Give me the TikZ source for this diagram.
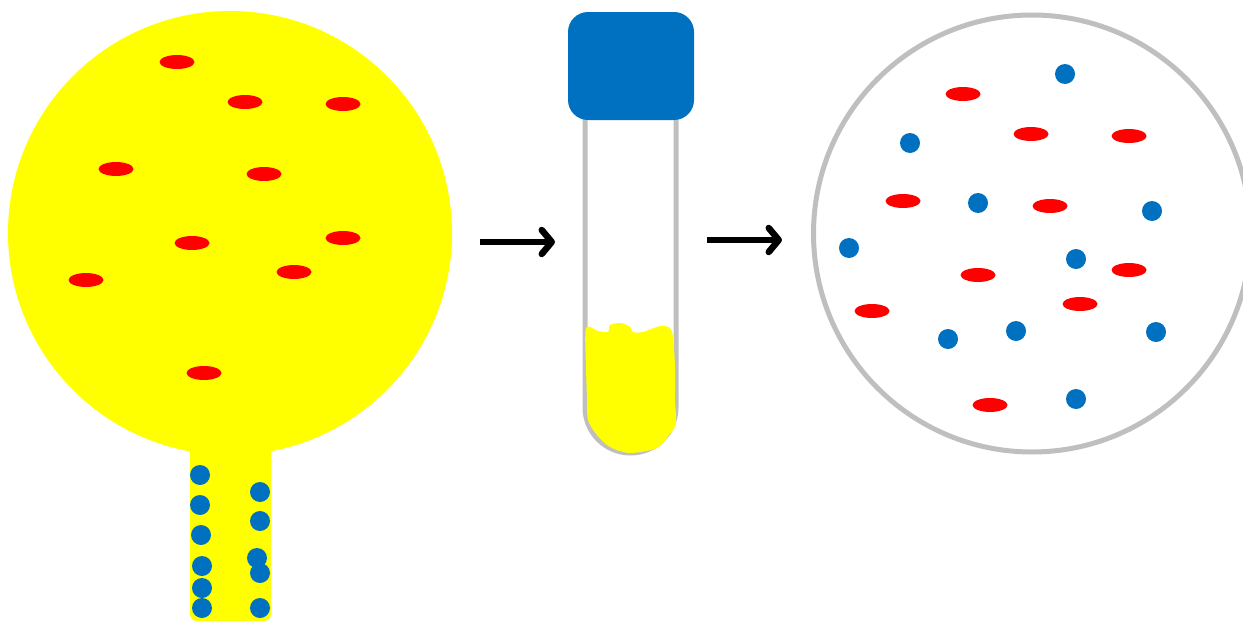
\documentclass[tikz,border=0pt]{standalone}
\usetikzlibrary{arrows.meta}
\definecolor{capblue}{HTML}{0070C0}
\definecolor{dotred}{HTML}{FF0000}
\definecolor{fillyellow}{HTML}{FFFF00}
\definecolor{glassgray}{HTML}{BFBFBF}
\tikzset{
  bluedot/.style={fill=capblue},
  redcell/.style={fill=dotred},
  glass/.style={glassgray, line width=5pt},
  flowarrow/.style={line width=6.5pt, -{Straight Barb[length=10pt,width=24pt,line width=6.5pt,round]}, line cap=butt},
}
\newcommand{\bdot}[2]{\fill[bluedot] (#1,#2) circle (10);}
\newcommand{\rcell}[2]{\fill[redcell] (#1,#2) ellipse (17.5 and 7);}
\begin{document}
\begin{tikzpicture}[x=1pt,y=-1pt]
\useasboundingbox (0,0) rectangle (1243,621);
% sample sac with its stem
\fill[fillyellow] (190,400) -- (271,400) -- (271,614) arc (0:90:7) -- (197,621) arc (90:180:7) -- cycle;
\fill[fillyellow] (230,233) circle (222);
\foreach \x/\y in {177/62,245/102,343/104,116/169,264/174,192/243,343/238,86/280,294/272,204/373} {\rcell{\x}{\y}}
\foreach \x/\y in {200/475,200/505,201/535,202/566,202/588,202/608,260/492,260/521,257/558,260/573,260/608} {\bdot{\x}{\y}}
% arrows
\coordinate (a1s) at (480,242); \coordinate (a1e) at (555,242);
\coordinate (a2s) at (707,240); \coordinate (a2e) at (782,240);
\draw[flowarrow] (a1s) -- (a1e);
\draw[flowarrow] (a2s) -- (a2e);
% test tube
\draw[glass] (585,110) -- (585,407.5) arc (180:0:45.5) -- (676,110);
\fill[fillyellow] plot[smooth cycle, tension=0.5] coordinates {(586,328) (598,331) (608,332) (610,325) (621,323) (630,327) (633,332) (643,332) (660,326) (670,328) (673,337) (675,367) (675,400) (676,423) (669,435) (657,448) (630,453) (610,447) (597,435) (588,420) (587,397) (586,367)};
\fill[capblue, rounded corners=20pt] (568,12) rectangle (694,120);
% culture plate
\draw[glass] (1032,233.5) circle (218.5);
\foreach \x/\y in {963/94,1031/134,1129/136,903/201,1050/206,978/275,1129/270,872/311,1080/304,990/405} {\rcell{\x}{\y}}
\foreach \x/\y in {1065/74,910/143,978/203,1152/211,849/248,1076/259,948/339,1016/331,1156/332,1076/399} {\bdot{\x}{\y}}
\end{tikzpicture}
\end{document}
